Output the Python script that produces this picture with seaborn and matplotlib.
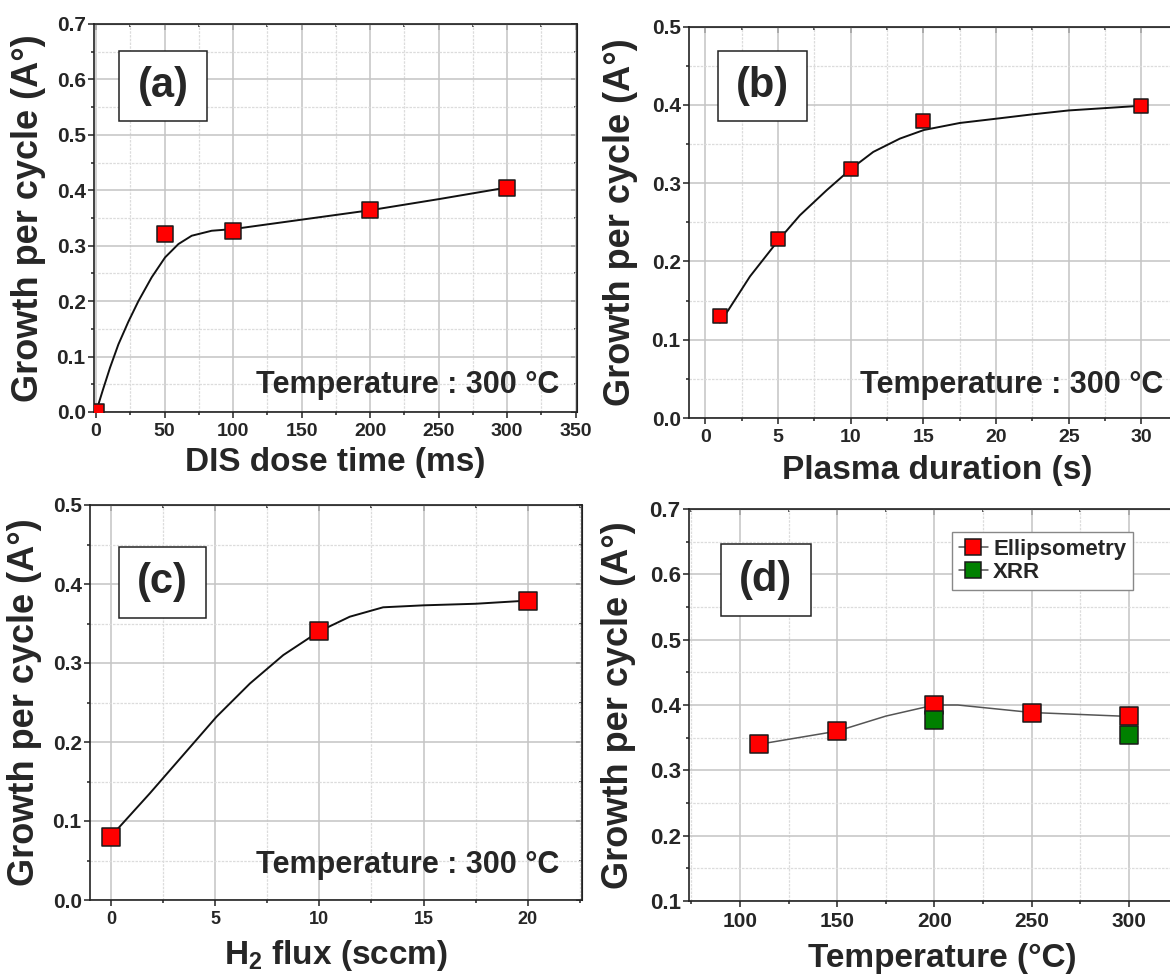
import matplotlib
matplotlib.use("Agg")
import matplotlib.pyplot as plt
import seaborn as sns
from matplotlib.ticker import MultipleLocator
from matplotlib.patches import Rectangle
from matplotlib.lines import Line2D

# (a) DIS dose time
dose_ms = [0, 50, 100, 200, 300]
gpc_dose = [0.0, 0.322, 0.327, 0.364, 0.405]
dose_fit_x = [0, 5, 10.2, 16.3, 23.6, 30.9, 40.6, 50.4, 60.1, 69.8, 84.4, 100,
              150, 200, 250, 300]
dose_fit_y = [0.0, 0.040, 0.080, 0.122, 0.163, 0.200, 0.243, 0.279, 0.303, 0.318,
              0.327, 0.330, 0.347, 0.364, 0.384, 0.405]

# (b) plasma duration
plasma_s = [1, 5, 10, 15, 30]
gpc_plasma = [0.13, 0.229, 0.318, 0.379, 0.399]
plasma_fit_x = [1, 1.58, 3.07, 5.06, 6.5, 8.34, 10.06, 11.55, 13.38, 15.03, 17.51,
                20.26, 22.5, 25, 27.5, 30]
plasma_fit_y = [0.122, 0.138, 0.181, 0.228, 0.259, 0.291, 0.319, 0.340, 0.357, 0.368,
                0.377, 0.383, 0.388, 0.393, 0.396, 0.399]

# (c) H2 flux
h2_sccm = [0, 10, 20]
gpc_h2 = [0.080, 0.340, 0.379]
h2_fit_x = [0, 0.43, 1.87, 3.47, 5.07, 6.67, 8.27, 9.99, 11.46, 13.06, 15, 17.5, 20]
h2_fit_y = [0.080, 0.093, 0.135, 0.1835, 0.232, 0.274, 0.310, 0.340, 0.3586, 0.3705,
            0.373, 0.375, 0.379]

# (d) temperature
temp_c = [110, 150, 200, 250, 300]
gpc_ellips = [0.340, 0.360, 0.400, 0.3885, 0.3825]
temp_xrr = [200, 300]
gpc_xrr = [0.3775, 0.354]
temp_fit_x = [110, 150, 175, 200, 212, 250, 300]
temp_fit_y = [0.340, 0.360, 0.383, 0.400, 0.400, 0.3885, 0.3825]

ylabel = "Growth per cycle (A°)"
temp_note = "Temperature : 300 °C"

RED = "#ff0000"
GREEN = "#008000"
EDGE = "#1a1a1a"

sns.set_style("ticks")
plt.rcParams["font.family"] = ["Liberation Sans", "DejaVu Sans"]
plt.rcParams["font.weight"] = "bold"
plt.rcParams["axes.labelweight"] = "bold"
plt.rcParams["mathtext.fontset"] = "custom"
plt.rcParams["mathtext.rm"] = "Liberation Sans:bold"
plt.rcParams["mathtext.it"] = "Liberation Sans:bold"
plt.rcParams["mathtext.bf"] = "Liberation Sans:bold"

W, H = 1170, 975
fig = plt.figure(figsize=(W / 100, H / 100), dpi=100)


def make_axes(l, r, t, b):
    return fig.add_axes([l / W, 1 - b / H, (r - l) / W, (b - t) / H])


def style_axes(ax, xmaj, xmin, ymaj, ymin, xsize, ysize):
    ax.xaxis.set_major_locator(MultipleLocator(xmaj))
    ax.xaxis.set_minor_locator(MultipleLocator(xmin))
    ax.yaxis.set_major_locator(MultipleLocator(ymaj))
    ax.yaxis.set_minor_locator(MultipleLocator(ymin))
    ax.set_axisbelow(True)
    ax.grid(which="major", color="#c4c4c4", lw=1.1)
    ax.grid(which="minor", color="#dcdcdc", lw=0.9, ls=(0, (2, 1)))
    for sp in ax.spines.values():
        sp.set_color("#222222")
        sp.set_linewidth(1.2)
    ax.tick_params(which="both", direction="out", color="#222222", width=1.1)
    ax.tick_params(which="major", length=4)
    ax.tick_params(which="minor", length=2.5)
    ax.tick_params(axis="x", pad=4, labelsize=xsize)
    ax.tick_params(axis="y", pad=2, labelsize=ysize)
    # mirrored inward ticks on top / right
    top = ax.secondary_xaxis("top")
    top.xaxis.set_major_locator(MultipleLocator(xmaj))
    top.xaxis.set_minor_locator(MultipleLocator(xmin))
    top.tick_params(which="both", direction="in", color="#222222", width=1.1,
                    labeltop=False, labelbottom=False)
    top.tick_params(which="major", length=4)
    top.tick_params(which="minor", length=2.5)
    right = ax.secondary_yaxis("right")
    right.yaxis.set_major_locator(MultipleLocator(ymaj))
    right.yaxis.set_minor_locator(MultipleLocator(ymin))
    right.tick_params(which="both", direction="in", color="#222222", width=1.1,
                      labelright=False, labelleft=False)
    right.tick_params(which="major", length=4)
    right.tick_params(which="minor", length=2.5)


def panel_box(ax, x0, x1, y0, y1, label):
    ax.add_patch(Rectangle((x0, y0), x1 - x0, y1 - y0, transform=ax.transAxes,
                           facecolor="white", edgecolor="#222222", lw=1.1, zorder=5))
    ax.text((x0 + x1) / 2, (y0 + y1) / 2, label, transform=ax.transAxes,
            ha="center", va="center", fontsize=30, fontweight="bold", zorder=6)


def draw_points(ax, x, y, ms, color=RED):
    sns.scatterplot(x=x, y=y, ax=ax, marker="s", s=ms ** 2, color=color,
                    edgecolor=EDGE, linewidth=1.1, zorder=4, legend=False)


def draw_curve(ax, x, y, color="#111111", lw=1.4):
    sns.lineplot(x=x, y=y, ax=ax, color=color, lw=lw, sort=False,
                 estimator=None, zorder=3, legend=False)


# ---- (a)
ax = make_axes(94, 577, 24, 412)
draw_curve(ax, dose_fit_x, dose_fit_y)
draw_points(ax, dose_ms, gpc_dose, 11.3)
ax.set_xlim(-1.5, 351)
ax.set_ylim(0, 0.7)
style_axes(ax, 50, 25, 0.1, 0.05, 14, 15)
ax.set_xlabel("DIS dose time (ms)", fontsize=24)
ax.set_ylabel(ylabel, fontsize=26)
ax.xaxis.set_label_coords(0.5, -0.09)
ax.yaxis.set_label_coords(-0.10, 0.5)
panel_box(ax, 0.052, 0.234, 0.75, 0.93, "(a)")
ax.text(0.963, 0.049, temp_note, transform=ax.transAxes, ha="right",
        va="baseline", fontsize=22, fontweight="bold")

# ---- (b)
ax = make_axes(689, 1185, 26.7, 418)
draw_curve(ax, plasma_fit_x, plasma_fit_y)
draw_points(ax, plasma_s, gpc_plasma, 10.5)
ax.set_xlim(-1.13, 33)
ax.set_ylim(0, 0.5)
style_axes(ax, 5, 2.5, 0.1, 0.05, 14, 15)
ax.set_xlabel("Plasma duration (s)", fontsize=24)
ax.set_ylabel(ylabel, fontsize=26)
ax.xaxis.set_label_coords(0.5, -0.095)
ax.yaxis.set_label_coords(-0.103, 0.5)
panel_box(ax, 0.058, 0.238, 0.759, 0.938, "(b)")
ax.text(0.956, 0.064, temp_note, transform=ax.transAxes, ha="right",
        va="baseline", fontsize=22, fontweight="bold")

# ---- (c)
ax = make_axes(90, 582, 505, 900)
draw_curve(ax, h2_fit_x, h2_fit_y)
draw_points(ax, h2_sccm, gpc_h2, 12.5)
ax.set_xlim(-1, 22.6)
ax.set_ylim(0, 0.5)
style_axes(ax, 5, 2.5, 0.1, 0.05, 13, 15)
ax.set_xlabel("H$_2$ flux (sccm)", fontsize=24)
ax.set_ylabel(ylabel, fontsize=26)
ax.xaxis.set_label_coords(0.5, -0.096)
ax.yaxis.set_label_coords(-0.097, 0.5)
panel_box(ax, 0.059, 0.236, 0.714, 0.894, "(c)")
ax.text(0.953, 0.068, temp_note, transform=ax.transAxes, ha="right",
        va="baseline", fontsize=22, fontweight="bold")

# ---- (d)
ax = make_axes(689, 1195, 509, 901)
draw_curve(ax, temp_fit_x, temp_fit_y, color="#555555", lw=1.1)
draw_points(ax, temp_c, gpc_ellips, 13)
draw_points(ax, temp_xrr, gpc_xrr, 13, color=GREEN)
ax.set_xlim(73.8, 334)
ax.set_ylim(0.1, 0.7)
style_axes(ax, 50, 25, 0.1, 0.05, 15, 16)
ax.set_xlabel("Temperature (°C)", fontsize=24)
ax.set_ylabel(ylabel, fontsize=26)
ax.xaxis.set_label_coords(0.5, -0.108)
ax.yaxis.set_label_coords(-0.105, 0.5)
panel_box(ax, 0.063, 0.241, 0.727, 0.911, "(d)")
handles = [
    Line2D([], [], color="#555555", lw=1.1, marker="s", ms=11,
           markerfacecolor=RED, markeredgecolor=EDGE, markeredgewidth=1.1),
    Line2D([], [], color="#555555", lw=1.1, marker="s", ms=11,
           markerfacecolor=GREEN, markeredgecolor=EDGE, markeredgewidth=1.1),
]
leg = ax.legend(handles, ["Ellipsometry", "XRR"], loc="upper left",
                bbox_to_anchor=(0.52, 0.941), borderaxespad=0,
                handlelength=1.3, handletextpad=0.25, labelspacing=0.1,
                borderpad=0.3, fancybox=False, framealpha=1,
                prop={"weight": "bold", "size": 16})
leg.get_frame().set_edgecolor("#888888")
leg.get_frame().set_linewidth(1.0)
leg.set_zorder(6)

fig.savefig("out.png", dpi=100)
